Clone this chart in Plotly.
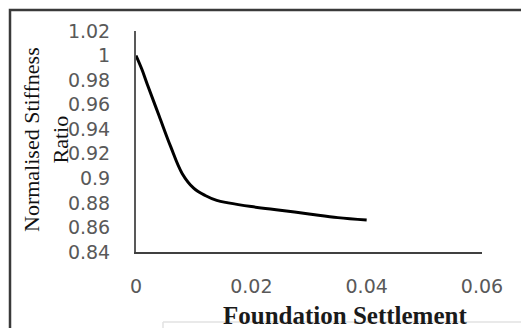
import plotly.graph_objects as go

settlement = [0, 0.001, 0.002, 0.004, 0.006, 0.008, 0.010, 0.012, 0.014, 0.016, 0.020, 0.025, 0.030, 0.035, 0.040]
stiffness_ratio = [1.0, 0.989, 0.976, 0.951, 0.926, 0.904, 0.892, 0.886, 0.882, 0.880, 0.877, 0.874, 0.871, 0.868, 0.866]

y_tickvals = [0.84, 0.86, 0.88, 0.90, 0.92, 0.94, 0.96, 0.98, 1.00, 1.02]
y_ticktext = ["0.84", "0.86", "0.88", "0.9", "0.92", "0.94", "0.96", "0.98", "1", "1.02"]
x_tickvals = [0, 0.02, 0.04, 0.06]
x_ticktext = ["0", "0.02", "0.04", "0.06"]

W, H = 521, 328
L, R, T, B = 136, 482, 31, 252

def px(x):
    return (x - L) / (R - L)

def py(y):
    return (B - y) / (B - T)

fig = go.Figure()
fig.add_trace(go.Scatter(
    x=settlement, y=stiffness_ratio, mode="lines",
    line=dict(color="black", width=3, shape="spline", smoothing=1.0),
    showlegend=False, hoverinfo="skip",
))

tick_font = dict(family="DejaVu Sans", size=19, color="#595959")

fig.update_layout(
    width=W, height=H,
    margin=dict(l=L, r=W - R, t=T, b=H - B),
    paper_bgcolor="white", plot_bgcolor="white",
    xaxis=dict(range=[0, 0.06], tickvals=x_tickvals, ticktext=x_ticktext,
               showgrid=False, zeroline=False, showline=True, linecolor="#404040",
               linewidth=2, ticks="", tickfont=tick_font, ticklabelstandoff=16),
    yaxis=dict(range=[0.84, 1.02], tickvals=y_tickvals, ticktext=y_ticktext,
               showgrid=False, zeroline=False, showline=True, linecolor="#595959",
               linewidth=2, ticks="", tickfont=tick_font, ticklabelstandoff=20),
    shapes=[
        dict(type="rect", xref="paper", yref="paper",
             x0=px(10), x1=px(540), y0=py(345), y1=py(10),
             line=dict(color="#3a3a3a", width=2.5), fillcolor="rgba(0,0,0,0)", layer="below"),
        dict(type="line", xref="paper", yref="paper",
             x0=px(163), x1=px(521), y0=py(322), y1=py(322),
             line=dict(color="#e2e2e2", width=1.5)),
        dict(type="line", xref="paper", yref="paper",
             x0=px(163), x1=px(163), y0=py(322), y1=py(335),
             line=dict(color="#e2e2e2", width=1.5)),
    ],
    annotations=[
        dict(text="Normalised Stiffness<br>Ratio", xref="paper", yref="paper",
             x=px(46), y=py(140), xanchor="center", yanchor="middle",
             textangle=-90, showarrow=False,
             font=dict(family="Liberation Serif", size=22, color="#111111")),
        dict(text="<b>Foundation Settlement</b>", xref="paper", yref="paper",
             x=px(345), y=py(315), xanchor="center", yanchor="middle",
             showarrow=False,
             font=dict(family="Liberation Serif", size=25, color="#1a1a1a")),
    ],
)

fig.write_html("out.html", config={"displayModeBar": False},
               post_script="document.body.style.margin='0';document.body.style.overflow='hidden';")
